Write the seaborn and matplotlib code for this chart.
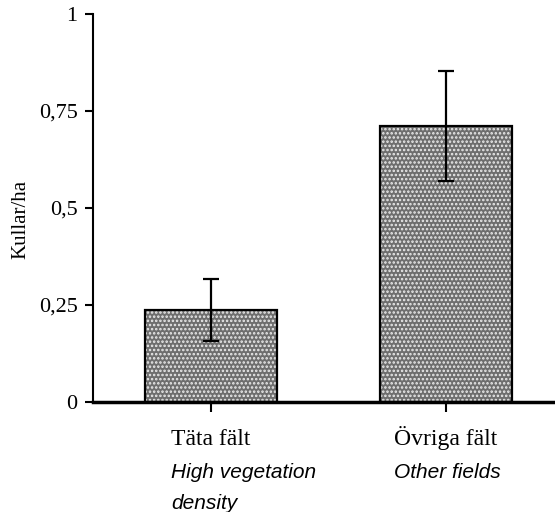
import matplotlib
matplotlib.use("Agg")
import matplotlib.pyplot as plt
import seaborn as sns
import numpy as np

categories = ["Täta fält", "Övriga fält"]
subtitles = [["High vegetation", "density"], ["Other fields"]]
values = [0.237, 0.711]
errors = [0.081, 0.142]
yticks = [0, 0.25, 0.5, 0.75, 1]
yticklabels = ["0", "0,25", "0,5", "0,75", "1"]

sns.set_style("white")
plt.rcParams["hatch.linewidth"] = 1.2
plt.rcParams["text.color"] = "black"
plt.rcParams["axes.labelcolor"] = "black"

fig = plt.figure(figsize=(5.55, 5.12), dpi=100)
ax = fig.add_axes([93/555, 1 - 402/512, 1 - 93/555, (402 - 14)/512])

sns.barplot(x=categories, y=values, ax=ax, width=0.562, color="#6e6e6e",
            errorbar=None, saturation=1)
for p in ax.patches:
    p.set_edgecolor("#ececec")
    p.set_hatch("....")
    p.set_linewidth(0)
    r = plt.Rectangle(p.get_xy(), p.get_width(), p.get_height(), fill=False,
                      edgecolor="black", linewidth=1.6, zorder=3)
    ax.add_patch(r)

x = np.arange(len(categories))
ax.errorbar(x, values, yerr=errors, fmt="none", ecolor="black", elinewidth=1.6,
            capsize=6, capthick=1.6, zorder=4)

ax.set_xlim(-0.502, 1.464)
ax.set_ylim(0, 1)
ax.set_yticks(yticks)
ax.set_yticklabels(yticklabels, fontfamily="Liberation Serif", fontsize=16)
ax.set_xticks(x)
ax.set_xticklabels(["", ""])
ax.tick_params(axis="y", direction="out", length=6, width=1.5, left=True, pad=5, colors="black")
ax.tick_params(axis="x", direction="out", length=7, width=1.5, bottom=True, colors="black")

for s in ["top", "right"]:
    ax.spines[s].set_visible(False)
ax.spines["left"].set_linewidth(1.5)
ax.spines["left"].set_color("black")
ax.spines["bottom"].set_linewidth(2.5)
ax.spines["bottom"].set_color("black")

ax.set_ylabel("Kullar/ha", fontfamily="Liberation Serif", fontsize=15, color="black")
ax.yaxis.set_label_coords(-0.136, 0.47)

firsts = []
for i, c in enumerate(categories):
    t = ax.annotate(c, xy=(i, 0), xycoords=("data", "axes fraction"),
                    xytext=(0, -31), textcoords="offset points", ha="center",
                    va="baseline", fontfamily="Liberation Serif", fontsize=17,
                    color="black")
    firsts.append(t)

fig.canvas.draw()
renderer = fig.canvas.get_renderer()
for i, t in enumerate(firsts):
    bb = t.get_window_extent(renderer)
    xl = ax.transData.inverted().transform((bb.x0, 0))[0]
    for j, line in enumerate(subtitles[i]):
        ax.annotate(line, xy=(xl, 0), xycoords=("data", "axes fraction"),
                    xytext=(0, -55 - 22 * j), textcoords="offset points", ha="left",
                    va="baseline", fontfamily="Liberation Sans", fontstyle="italic",
                    fontsize=15, color="black", annotation_clip=False)

fig.savefig("out.png", dpi=100)
